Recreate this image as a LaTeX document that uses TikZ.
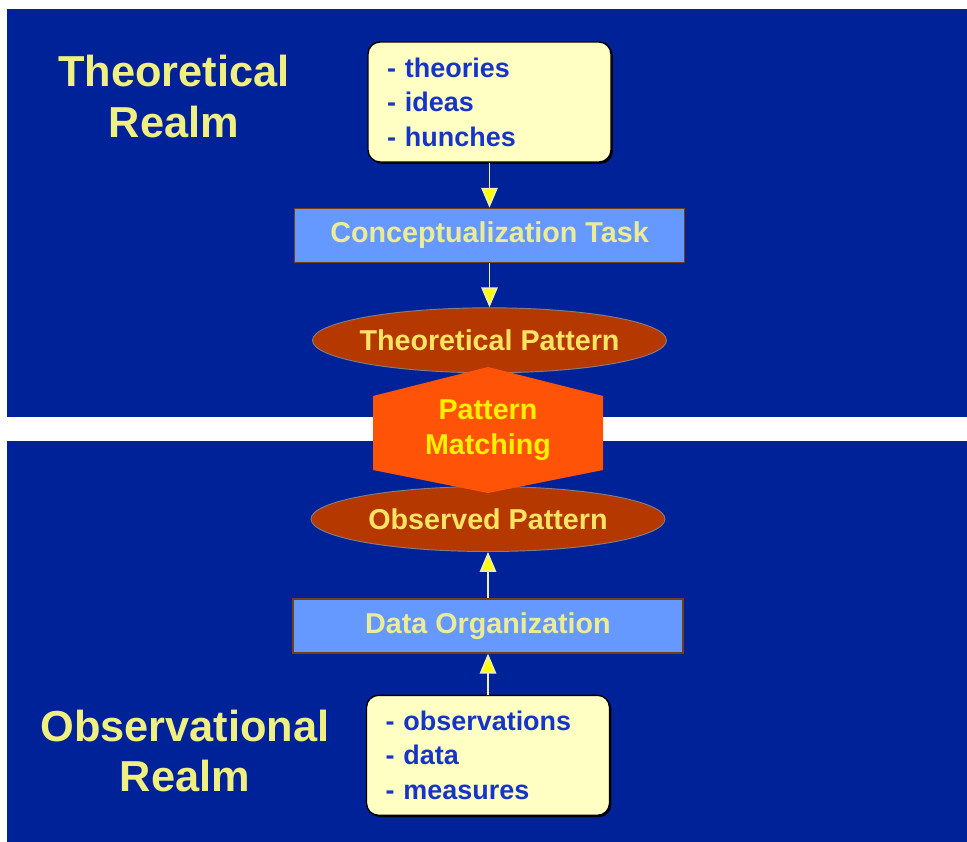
\documentclass[tikz,border=0pt]{standalone}
\usepackage{fontspec}
\setmainfont{Liberation Sans}
\usepackage{tikz}
\usetikzlibrary{positioning, shapes.geometric, arrows.meta, shadows}

\definecolor{panelblue}{RGB}{0,34,153}
\definecolor{notefill}{RGB}{255,255,196}
\definecolor{notetext}{RGB}{22,52,200}
\definecolor{taskfill}{RGB}{102,153,255}
\definecolor{taskedge}{RGB}{112,64,16}
\definecolor{tasktext}{RGB}{236,236,150}
\definecolor{patfill}{RGB}{180,56,0}
\definecolor{pattext}{RGB}{255,228,100}
\definecolor{hexfill}{RGB}{255,83,8}
\definecolor{hextext}{RGB}{255,240,0}
\definecolor{realmtext}{RGB}{240,240,128}
\definecolor{flowline}{RGB}{240,240,170}
\definecolor{flowhead}{RGB}{255,255,0}

\tikzset{
	realm/.style={text=realmtext, align=center,
		font=\fontsize{37}{43.5}\selectfont\bfseries},
	notebox/.style={draw=black, line width=1.2pt, fill=notefill, rounded corners=0.36cm,
		drop shadow={shadow xshift=1.5pt, shadow yshift=-1.5pt, fill=black, opacity=1},
		minimum height=3.6cm, text width=6.15cm, inner xsep=0.57cm, align=left,
		text=notetext, font=\fontsize{23}{29.5}\selectfont\bfseries},
	taskbox/.style={draw=taskedge, line width=1.4pt, fill=taskfill,
		minimum width=11.7cm, minimum height=1.62cm, text=tasktext,
		font=\fontsize{24.5}{29}\selectfont\bfseries},
	patoval/.style={ellipse, draw=gray, line width=0.8pt, fill=patfill, inner sep=0pt,
		minimum width=10.62cm, minimum height=1.95cm, text=pattext,
		font=\fontsize{24.5}{29}\selectfont\bfseries},
	flow/.style={draw=flowline, line width=1.5pt,
		-{Triangle[length=17pt, width=14pt, fill=flowhead]}}
}

\begin{document}
\begin{tikzpicture}
	\useasboundingbox (0,0) rectangle (29.01,-25.26);
	\fill[white] (0,0) rectangle (29.01,-25.26);
	
	% the two realms
	\fill[panelblue] (0.21,-0.27) rectangle (29.01,-12.51);
	\fill[panelblue] (0.21,-13.23) rectangle (29.01,-25.26);
	
	\node[realm] (theorealm) at (5.22,-2.9) {Theoretical\\Realm};
	\node[realm] (obsrealm) at (5.55,-22.53) {Observational\\Realm};
	
	% theoretical side
	\node[notebox] (theo) at (14.685,-3.06) {- theories\\- ideas\\- hunches};
	\node[taskbox, below=1.35cm of theo] (concept) {Conceptualization Task};
	\node[patoval, below=1.32cm of concept] (theopat) {\makebox[0pt]{Theoretical Pattern}};
	
	% observational side
	\node[patoval] (obspat) at (14.64,-15.57) {\makebox[0pt]{Observed Pattern}};
	\node[taskbox, below=1.38cm of obspat] (dataorg) {Data Organization};
	\node[notebox, below=1.23cm of dataorg] (obs) {- observations\\- data\\- measures};
	
	% matching hexagon
	\coordinate (hexc) at (14.64,-12.9);
	\fill[hexfill, shift={(hexc)}] (0,1.89) -- (3.45,1.02) -- (3.45,-1.2)
		-- (0,-1.89) -- (-3.45,-1.2) -- (-3.45,1.02) -- cycle;
	\node[text=hextext, align=center, font=\fontsize{24.5}{30}\selectfont\bfseries]
		(match) at (hexc) {Pattern\\Matching};
	
	\draw[flow] (theo) -- (concept);
	\draw[flow] (concept) -- (theopat);
	\draw[flow] (obs) -- (dataorg);
	\draw[flow] (dataorg) -- (obspat);
\end{tikzpicture}
\end{document}
